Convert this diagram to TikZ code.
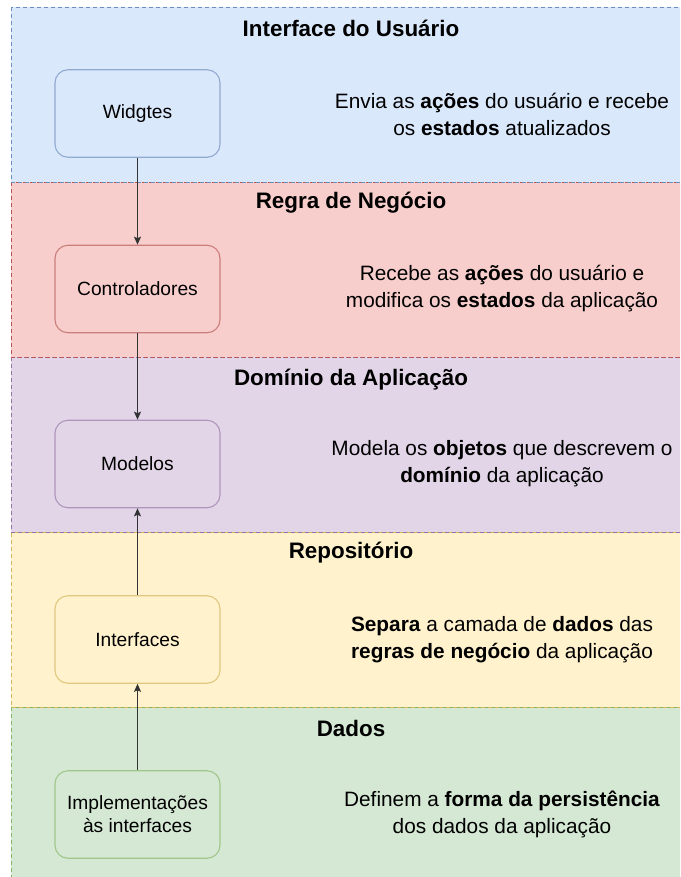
\documentclass[tikz,border=0pt]{standalone}
\usepackage{fontspec}
\setmainfont{Liberation Sans}
\usetikzlibrary{arrows.meta}
\definecolor{blueF}{HTML}{DAE8FC}\definecolor{blueD}{HTML}{6C8EBF}
\definecolor{redF}{HTML}{F8CECC}\definecolor{redD}{HTML}{B85450}
\definecolor{purF}{HTML}{E1D5E7}\definecolor{purD}{HTML}{9673A6}
\definecolor{yelF}{HTML}{FFF2CC}\definecolor{yelD}{HTML}{D6B656}
\definecolor{grnF}{HTML}{D5E8D4}\definecolor{grnD}{HTML}{82B366}
\definecolor{arrowC}{HTML}{333333}
\tikzset{
  layerband/.style={draw=#1, line width=0.9pt, dash pattern=on 4pt off 3pt},
  layerbox/.style={draw=#1!75, line width=1.1pt, rounded corners=13pt, minimum width=165pt, minimum height=87.5pt,
    align=center, inner sep=0pt, font=\fontsize{19.2}{23}\selectfont},
  layertitle/.style={font=\bfseries\fontsize{22.4}{27}\selectfont, inner sep=0pt},
  layerdesc/.style={font=\fontsize{20.8}{27}\selectfont, align=center, inner sep=0pt},
  conn/.style={draw=arrowC, line width=1.3pt, -{Stealth[length=8pt,width=7pt,inset=1.5pt]}}
}
\begin{document}
\begin{tikzpicture}[x=1pt,y=-1pt]
\useasboundingbox (0,0) rectangle (680,877);
\clip (0,0) rectangle (680,877);
% bands
\fill[blueF] (11,7) rectangle (691,182);
\fill[redF] (11,182) rectangle (691,357);
\fill[purF] (11,357) rectangle (691,532.5);
\fill[yelF] (11,532.5) rectangle (691,707);
\fill[grnF] (11,707) rectangle (691,882);
\draw[layerband=grnD] (11,707) rectangle (691,882);
\draw[layerband=yelD] (11,532.5) rectangle (691,707);
\draw[layerband=purD] (11,357) rectangle (691,532.5);
\draw[layerband=redD] (11,182) rectangle (691,357);
\draw[layerband=blueD] (11,7) rectangle (691,182);
% titles
\node[layertitle] (t1) at (351,28) {Interface do Usuário};
\node[layertitle] (t2) at (351,203) {Regra de Negócio};
\node[layertitle] (t3) at (351,380) {Domínio da Aplicação};
\node[layertitle] (t4) at (351,553) {Repositório};
\node[layertitle] (t5) at (351,728) {Dados};
% boxes
\node[layerbox=blueD, fill=blueF] (w) at (137.5,113.5) {Widgtes};
\node[layerbox=redD, fill=redF] (c) at (137.5,289) {Controladores};
\node[layerbox=purD, fill=purF] (m) at (137.5,464) {Modelos};
\node[layerbox=yelD, fill=yelF] (i) at (137.5,639.5) {Interfaces};
\node[layerbox=grnD, fill=grnF] (p) at (137.5,814.5) {Implementações\\às interfaces};
% descriptions
\node[layerdesc] (d1) at (502,114) {Envia as \textbf{ações} do usuário e recebe\\os \textbf{estados} atualizados};
\node[layerdesc] (d2) at (502,289) {Recebe as \textbf{ações} do usuário e\\modifica os \textbf{estados} da aplicação};
\node[layerdesc] (d3) at (502,464) {Modela os \textbf{objetos} que descrevem o\\\textbf{domínio} da aplicação};
\node[layerdesc] (d4) at (502,639.5) {\textbf{Separa} a camada de \textbf{dados} das\\\textbf{regras de negócio} da aplicação};
\node[layerdesc] (d5) at (502,814.5) {Definem a \textbf{forma da persistência}\\dos dados da aplicação};
% connectors
\draw[conn] (w) -- (c);
\draw[conn] (c) -- (m);
\draw[conn] (i) -- (m);
\draw[conn] (p) -- (i);
\end{tikzpicture}
\end{document}
